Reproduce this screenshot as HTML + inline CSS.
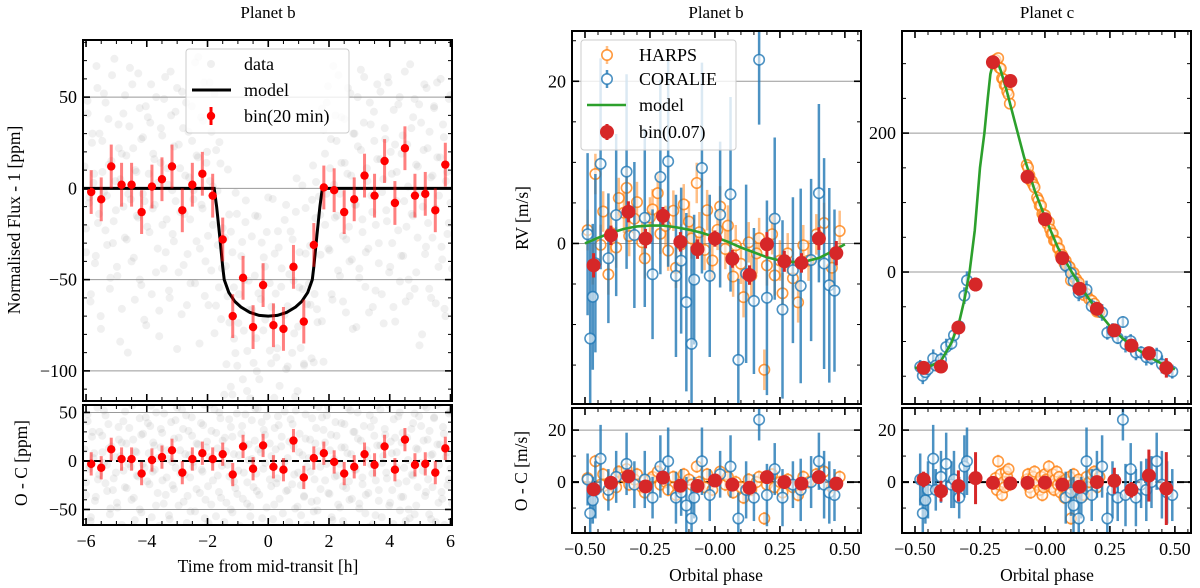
<!DOCTYPE html>
<html><head><meta charset="utf-8">
<style>
html,body{margin:0;padding:0;background:#fff;}
svg{display:block;font-family:"Liberation Serif",serif;}
</style></head>
<body>
<svg id="fig" width="1200" height="588" viewBox="0 0 1200 588" xmlns="http://www.w3.org/2000/svg">
<defs id="defs"></defs>
<text x="268" y="18" font-size="17" text-anchor="middle">Planet b</text>
<text x="716" y="18" font-size="17" text-anchor="middle">Planet b</text>
<text x="1047" y="18" font-size="17" text-anchor="middle">Planet c</text>
<text transform="translate(20,220) rotate(-90)" font-size="17.5" text-anchor="middle">Normalised Flux - 1 [ppm]</text>
<text transform="translate(27,463) rotate(-90)" font-size="17.5" text-anchor="middle">O - C [ppm]</text>
<text transform="translate(528,218) rotate(-90)" font-size="17.5" text-anchor="middle">RV [m/s]</text>
<text transform="translate(527,471) rotate(-90)" font-size="17.5" text-anchor="middle">O - C [m/s]</text>
<text x="268" y="572" font-size="17.5" text-anchor="middle">Time from mid-transit [h]</text>
<text x="716" y="581" font-size="17.5" text-anchor="middle">Orbital phase</text>
<text x="1047" y="581" font-size="17.5" text-anchor="middle">Orbital phase</text>
</svg>
<script>
// ---------- transit data ----------
const transitNoise=[12,-35,48,-8,-62,25,3,-41,67,-19,30,-77,9,52,-23,-4,38,-55,15,-30,71,-12,-48,22,5,-66,41,-27,18,-90,34,-6,57,-38,10,-15,63,-50,27,-3,-72,45,-21,8,36,-58,19,-9,50,-33,-81,14,29,-44,61,-17,2,-60,40,-25,23,-7,55,-46,11,-69,33,-14,47,-36,6,-52,26,-1,69,-29,17,-85,39,-11,58,-40,20,-64,4,31,-20,53,-57,13,-32,44,-5,-74,24,-43,66,-16,35,-53,7,-28,49,-10,-67,28,-39,16,60,-22,1,-47,42,-79,21,-13,54,-35,9,-59,32,-2,46,-70,18,-26,64,-45,12,-18,37,-83,25,-8,51,-31,3,-63,43,-24,15,-49,70,-12,28,-56,6,-37,48,-6,-71,22,-42,59,-19,34,-51,10,-29,45,-95,19,-3,56,-34,27,-61,2,40,-15,62,-48,14,-26,38,-68,8,-21,52,-39,30,-9,-76,23,-44,65,-17,36,-54,11,-33,47,-4,-65,26,-20,57,-41,16,-58,5,33,-12,61,-46,20,-30,43,-73,9,-23,50,-37,29,-7,-62,24,-50,68,-14,39,-55,13,-27,46,-2,-80,21,-36,55,-19,31,-60,7,44,-11,58,-43,17,-32,35,-66,4,-25,49,-8];
const transitNoise2=[-22,41,-5,-58,30,8,-37,55,-14,-70,26,-2,47,-31,13,-49,62,-18,4,-43,35,-84,19,-10,51,-28,-3,66,-40,22,-61,9,-16,44,-53,28,-7,-75,39,-24,57,-11,16,-46,3,-67,33,-20,49,-35,11,-56,64,-1,-29,42,-88,24,-13,53,-42,7,-64,31,-17,45,-6,-52,18,72,-33,-9,37,-59,14,-26,58,-45,1,-78,29,-15,50,-38,21,-63,10,-4,43,-50,25,-21,60,-34,6,-69,36,-12,48,-44,17,-57,2,-27,54,-31,12,-73,40,-8,27,-48,65,-19,5,-60,34,-23,46,-39,15,-54,-1,59,-30,20,-82,38,-14,52,-47,9,-25,63,-36,23,-66,3,-11,44,-52,18,-41,56,-6,-71,32,-20,47,-33,11,-58,67,-16,26,-45,-3,39,-62,14,-28,55,-40,7,-77,30,-9,50,-49,21,-24,61,-35,4,-68,35,-13,42,-56,16,-30,53,-2,-74,27,-18,58,-43,8,-65,24,-7,46,-51,19,-37,64,-21,1,-59,33,-15,49,-46,12,-86,36,-10,57,-32,22,-55,6,-27,45,-63,17,-4,60,-39,28,-70,9,-19,51,-44];
const binTimes=[-5.83,-5.5,-5.17,-4.83,-4.5,-4.17,-3.83,-3.5,-3.17,-2.83,-2.5,-2.17,-1.83,-1.5,-1.17,-0.83,-0.5,-0.17,0.17,0.5,0.83,1.17,1.5,1.83,2.17,2.5,2.83,3.17,3.5,3.83,4.17,4.5,4.83,5.17,5.5,5.83];
const binFlux=[-2,-6,12,2,2,-13,1,5,12,-12,2,8,-4,-28,-70,-49,-76,-53,-75,-77,-43,-73,-31,0.5,-1,-13,-6,7,-4,15,-8,22,-4,-3,-12,13];
const binFluxRes=[-3,-7,12,2,2,-13,1,4,11,-12,2,8,2,7,-14,15,-8,16,-6,-9,21,-17,3,8,-1,-13,-6,7,-4,15,-9,22,-4,-3,-12,13];
const binFluxErr=[12,12,12,12,12,12,12,12,12,12,12,12,12,12,12,12,12,12,12,12,12,12,12,12,12,12,12,12,12,12,12,12,12,12,12,12];
const transitModelT=[-6.2,-1.78,-1.7,-1.6,-1.5,-1.45,-1.3,-1.1,-0.9,-0.6,-0.3,0,0.3,0.6,0.9,1.1,1.3,1.45,1.5,1.6,1.7,1.78,6.2];
const transitModelF=[0,0,-10,-26,-43,-50,-57,-62,-65,-68,-69.6,-70,-69.6,-68,-65,-62,-57,-50,-43,-26,-10,0,0];
// ---------- RV data ----------
const harpsPhaseB=[-0.49,-0.47,-0.46,-0.44,-0.43,-0.41,-0.40,-0.38,-0.37,-0.35,-0.34,-0.33,-0.31,-0.30,-0.28,-0.27,-0.25,-0.24,-0.22,-0.21,-0.19,-0.18,-0.16,-0.15,-0.13,-0.12,-0.10,-0.09,-0.07,-0.06,-0.04,-0.03,-0.01,0.01,0.02,0.04,0.05,0.07,0.08,0.10,0.11,0.13,0.14,0.16,0.17,0.19,0.20,0.22,0.23,0.25,0.26,0.28,0.30,0.32,0.34,0.36,0.39,0.42,0.45,0.48];
const harpsPhaseC=[-0.19,-0.185,-0.18,-0.175,-0.17,-0.165,-0.16,-0.155,-0.15,-0.145,-0.14,-0.135,-0.07,-0.065,-0.06,-0.055,-0.05,-0.045,-0.04,-0.03,-0.025,-0.02,-0.015,-0.01,-0.005,0.0,0.005,0.01,0.015,0.02,0.025,0.03,0.035,0.04,0.045,0.05,0.055,0.06,0.065,0.07,0.075,0.08,0.085,0.09,0.095,0.10,0.105,0.11,0.115,0.12,0.125,0.13,0.14,0.15,0.16,0.17,0.18,0.19,0.20,0.21];
const harpsOC=[1.5,-3,8,-1,3,-5,0,-2,4,2,5,-1,1,3,-2,-4,1,2,4,-1,0,-3,2,-5,-2,3,1,-1,6,0,-2,3,-3,1,4,-1,2,-4,0,-2,-6,1,-3,0,2,-14,-1,3,-2,0,-4,1,-2,-5,2,0,3,4,-2,2];
const coraliePhaseB=[-0.49,-0.48,-0.47,-0.46,-0.44,-0.41,-0.38,-0.34,-0.31,-0.27,-0.24,-0.21,-0.18,-0.15,-0.13,-0.11,-0.09,-0.08,-0.05,-0.02,0.02,0.06,0.09,0.12,0.15,0.17,0.20,0.23,0.26,0.30,0.33,0.37,0.40,0.42,0.44,0.46];
const coraliePhaseC=[-0.48,-0.47,-0.46,-0.45,-0.43,-0.42,-0.40,-0.38,-0.36,-0.35,-0.33,-0.31,-0.30,0.08,0.10,0.11,0.13,0.14,0.16,0.18,0.20,0.22,0.24,0.26,0.28,0.30,0.31,0.33,0.35,0.37,0.39,0.41,0.43,0.45,0.47,0.49];
const coralieOC=[1,-12,-7,-3,9,-3,2,7,-1,1,-6,6,8,-6,-4,-9,-14,-6,8,-5,3,6,-14,-3,-6,24,-5,5,-6,-1,-3,0,8,-1,-4,-5];
const coralieErr=[10,12,9,11,13,8,10,12,9,11,8,12,13,10,9,11,12,8,13,10,9,12,10,11,9,8,12,10,11,9,12,10,11,13,12,10];
const binPhase=[-0.467,-0.4,-0.333,-0.267,-0.2,-0.133,-0.067,0,0.067,0.133,0.2,0.267,0.333,0.4,0.467];
const binRVb=[-2.7,1.0,3.9,0.6,3.4,0.2,-0.7,0.6,-1.9,-3.9,-0.1,-2.2,-2.4,0.6,-1.2];
const binRVbRes=[-2.8,-0.3,2.2,-1.7,1.7,-1.4,-1.5,0.6,-1,-2.2,1.9,0,-0.6,1.9,-0.6];
const binRVbErr=[1.5,1.2,1.3,1.2,1.1,1.2,1.2,1.0,1.1,1.2,1.5,1.3,1.2,1.4,1.5];
const binRVc=[-138,-136,-80,-18,302,275,137,76,20,-24,-53,-84,-106,-117,-138];
const binRVcRes=[1,-3.5,-1.5,1.5,-0.3,-0.5,-0.3,-0.2,-1,-1.8,0,0.5,-3,2.5,-2.5];
const binRVcErr=[3,4,6,10,1,1,1,1,1,1,2,5,3,10,14];
const modelBPhase=[-0.5,-0.45,-0.4,-0.35,-0.3,-0.25,-0.2,-0.15,-0.1,-0.05,0,0.05,0.1,0.15,0.2,0.25,0.3,0.35,0.4,0.45,0.5];
const modelBRV=[0,0.7,1.3,1.8,2.1,2.2,2.2,2.0,1.7,1.3,0.8,0.2,-0.5,-1.1,-1.7,-2.1,-2.3,-2.2,-1.8,-1.0,-0.1];
const modelCPhase=[-0.5,-0.45,-0.4,-0.36,-0.33,-0.31,-0.29,-0.27,-0.25,-0.233,-0.22,-0.21,-0.2,-0.19,-0.18,-0.17,-0.15,-0.12,-0.08,-0.04,0,0.05,0.1,0.15,0.2,0.25,0.3,0.35,0.4,0.45,0.5];
const modelCRV=[-138,-137,-128,-102,-72,-40,0,60,150,200,250,285,300,304,300,290,265,222,165,118,79,35,2,-28,-55,-78,-96,-110,-122,-132,-140];

const NS='http://www.w3.org/2000/svg';
const svg=document.getElementById('fig');
const defs=document.getElementById('defs');
function mk(tag,attrs,parent){const e=document.createElementNS(NS,tag);for(const k in attrs)e.setAttribute(k,attrs[k]);(parent||svg).appendChild(e);return e;}
function lin(d0,d1,r0,r1){return v=>r0+(v-d0)*(r1-r0)/(d1-d0);}
function interp(xs,ys,x){if(x<=xs[0])return ys[0];for(let i=1;i<xs.length;i++){if(x<=xs[i]){const t=(x-xs[i-1])/(xs[i]-xs[i-1]);return ys[i-1]+t*(ys[i]-ys[i-1]);}}return ys[ys.length-1];}
function fmt(v,d){const s=Math.abs(v).toFixed(d);return (v<0?'\u2212':'')+s;}
const TF=18;

function panel(name,x0,x1,y0,y1,xl,yl,o){
  const g=mk('g',{});
  
  
  const cp=mk('clipPath',{id:name+'-clip'},defs);
  mk('rect',{x:x0,y:y0,width:x1-x0,height:y1-y0},cp);
  const sx=lin(xl[0],xl[1],x0,x1), sy=lin(yl[0],yl[1],y1,y0);
  const plot=mk('g',{'clip-path':'url(#'+name+'-clip)'},g);
  o.grid.forEach(v=>{
    const l=mk('line',{x1:x0,x2:x1,y1:sy(v),y2:sy(v),stroke:'#999','stroke-width':1},plot);
    
    
  });
  if(o.zero){
    const z=mk('line',{x1:x0,x2:x1,y1:sy(0),y2:sy(0),stroke:'#000','stroke-width':2,'stroke-dasharray':'7,4'},plot);
    
    
  }
  return {name,g,plot,sx,sy,x0,x1,y0,y1,xl,yl,o};
}
function frame(p){
  const {g,sx,sy,x0,x1,y0,y1,xl,yl,o}=p;
  const fr=mk('g',{stroke:'#000'},g);
  
  
  const tick=(a,b,c,d,w)=>mk('line',{x1:a,y1:b,x2:c,y2:d,'stroke-width':w},fr);
  for(let v=Math.ceil(xl[0]/o.xmin-1e-9)*o.xmin;v<=xl[1]+1e-9;v+=o.xmin){
    const X=sx(v);const major=Math.abs(v/o.xmaj-Math.round(v/o.xmaj))<1e-6;const L=major?7:4;
    tick(X,y1,X,y1-L,major?1.6:1);tick(X,y0,X,y0+L,major?1.6:1);
    if(major&&o.xlabels){const t=mk('text',{x:X,y:y1+22,'font-size':TF,'text-anchor':'middle',stroke:'none',fill:'#000'},g);t.textContent=fmt(v,o.xdec);
      
      }
  }
  for(let v=Math.ceil(yl[0]/o.ymin-1e-9)*o.ymin;v<=yl[1]+1e-9;v+=o.ymin){
    const Y=sy(v);const major=Math.abs(v/o.ymaj-Math.round(v/o.ymaj))<1e-6;const L=major?7:4;
    tick(x0,Y,x0+L,Y,major?1.6:1);tick(x1,Y,x1-L,Y,major?1.6:1);
    if(major){const t=mk('text',{x:x0-6,y:Y+6,'font-size':TF,'text-anchor':'end',stroke:'none',fill:'#000'},g);t.textContent=fmt(Math.round(v),0);
      
      }
  }
  const b=mk('rect',{x:x0,y:y0,width:x1-x0,height:y1-y0,fill:'none','stroke-width':2},fr);
  
  
}
function errbar(parent,X,Y1,Y2,color,w,op){return mk('line',{x1:X,x2:X,y1:Y1,y2:Y2,stroke:color,'stroke-width':w,'stroke-opacity':op},parent);}

// ---------- panel A: transit ----------
const A=panel('transit-panel',83,452,40,401,[-6.1,6.05],[-116.5,81.3],{grid:[50,0,-50,-100],xmaj:2,xmin:0.5,ymaj:50,ymin:10,xlabels:false,xdec:0});
const AR=panel('transit-residual-panel',83,452,405,525,[-6.1,6.05],[-66,57.7],{grid:[50,-50],zero:true,xmaj:2,xmin:0.5,ymaj:50,ymin:10,xlabels:true,xdec:0});
[[transitNoise,-6.05],[transitNoise2,-6.0]].forEach(([arr,start])=>{
  arr.forEach((n,i)=>{
    const t=start+12.05*i/(arr.length-1);
    const c=mk('circle',{cx:A.sx(t),cy:A.sy(n+interp(transitModelT,transitModelF,t)),r:4,fill:'#808080','fill-opacity':0.12},A.plot);
    
    
    const c2=mk('circle',{cx:AR.sx(t),cy:AR.sy(n),r:4,fill:'#808080','fill-opacity':0.12},AR.plot);
    
    
  });
});
const tm=mk('polyline',{points:transitModelT.map((t,i)=>A.sx(t)+','+A.sy(transitModelF[i])).join(' '),fill:'none',stroke:'#000','stroke-width':3},A.plot);


binTimes.forEach((t,i)=>{
  const e=errbar(A.plot,A.sx(t),A.sy(binFlux[i]-binFluxErr[i]),A.sy(binFlux[i]+binFluxErr[i]),'#ff0000',3,0.5);
  
  
  const c=mk('circle',{cx:A.sx(t),cy:A.sy(binFlux[i]),r:4.2,fill:'#ff0000'},A.plot);
  
  
  const e2=errbar(AR.plot,AR.sx(t),AR.sy(binFluxRes[i]-binFluxErr[i]),AR.sy(binFluxRes[i]+binFluxErr[i]),'#ff0000',3,0.5);
  
  
  const c2=mk('circle',{cx:AR.sx(t),cy:AR.sy(binFluxRes[i]),r:4.2,fill:'#ff0000'},AR.plot);
  
  
});
frame(A);frame(AR);

// ---------- RV panels ----------
const PX=[-0.55,0.562];
const B=panel('rv-b-panel',572,861,31,404,PX,[-19.8,26.2],{grid:[20,0],xmaj:0.25,xmin:0.05,ymaj:20,ymin:5,xlabels:false,xdec:2});
const BR=panel('rv-b-residual-panel',572,861,408,533,PX,[-19.6,28.5],{grid:[20],zero:true,xmaj:0.25,xmin:0.05,ymaj:20,ymin:10,xlabels:true,xdec:2});
const C=panel('rv-c-panel',902,1191,31,404,PX,[-190,347],{grid:[200,0],xmaj:0.25,xmin:0.05,ymaj:200,ymin:50,xlabels:false,xdec:2});
const CR=panel('rv-c-residual-panel',902,1191,408,533,PX,[-19.6,28.5],{grid:[20],zero:true,xmaj:0.25,xmin:0.05,ymaj:20,ymin:10,xlabels:true,xdec:2});

function drawInst(P,phases,vals,errs,color,ew,eop,name){
  phases.forEach((ph,i)=>{
    const X=P.sx(ph),v=vals[i],e=errs[i];
    const b=errbar(P.plot,X,P.sy(v-e),P.sy(v+e),color,ew,eop);
    
    
  });
  phases.forEach((ph,i)=>{
    const c=mk('circle',{cx:P.sx(ph),cy:P.sy(vals[i]),r:5.2,fill:'#fff','fill-opacity':0.55,stroke:color,'stroke-width':1.6,'stroke-opacity':0.8},P.plot);
    
    
  });
}
const harpsErr=harpsOC.map(()=>2.5);
const harpsB=harpsPhaseB.map((p,i)=>interp(modelBPhase,modelBRV,p)+harpsOC[i]);
const harpsC=harpsPhaseC.map((p,i)=>interp(modelCPhase,modelCRV,p)+harpsOC[i]);
const corB=coraliePhaseB.map((p,i)=>interp(modelBPhase,modelBRV,p)+coralieOC[i]);
const corC=coraliePhaseC.map((p,i)=>interp(modelCPhase,modelCRV,p)+coralieOC[i]);
drawInst(B,harpsPhaseB,harpsB,harpsErr,'#ff7f0e',2.5,0.5,'harps');
drawInst(B,coraliePhaseB,corB,coralieErr,'#1f77b4',2.5,0.8,'coralie');
drawInst(BR,harpsPhaseB,harpsOC,harpsErr,'#ff7f0e',2.5,0.5,'harps-residual');
drawInst(BR,coraliePhaseB,coralieOC,coralieErr,'#1f77b4',2.5,0.8,'coralie-residual');
drawInst(C,harpsPhaseC,harpsC,harpsErr,'#ff7f0e',2.5,0.5,'harps');
drawInst(C,coraliePhaseC,corC,coralieErr,'#1f77b4',2.5,0.8,'coralie');
drawInst(CR,harpsPhaseC,harpsOC,harpsErr,'#ff7f0e',2.5,0.5,'harps-residual');
drawInst(CR,coraliePhaseC,coralieOC,coralieErr,'#1f77b4',2.5,0.8,'coralie-residual');

const mb=mk('polyline',{points:modelBPhase.map((p,i)=>B.sx(p)+','+B.sy(modelBRV[i])).join(' '),fill:'none',stroke:'#2ca02c','stroke-width':2.6},B.plot);


const mc=mk('polyline',{points:modelCPhase.map((p,i)=>C.sx(p)+','+C.sy(modelCRV[i])).join(' '),fill:'none',stroke:'#2ca02c','stroke-width':2.6,'stroke-linejoin':'round'},C.plot);



function drawBins(P,vals,errs,name){
  binPhase.forEach((ph,i)=>{
    const X=P.sx(ph);
    const b=errbar(P.plot,X,P.sy(vals[i]-errs[i]),P.sy(vals[i]+errs[i]),'#d62728',3,1);
    
    
    const c=mk('circle',{cx:X,cy:P.sy(vals[i]),r:7,fill:'#d62728'},P.plot);
    
    
  });
}
drawBins(B,binRVb,binRVbErr,'rv-b-bin');
drawBins(BR,binRVbRes,binRVbErr,'rv-b-residual-bin');
drawBins(C,binRVc,binRVcErr,'rv-c-bin');
drawBins(CR,binRVcRes,binRVcErr,'rv-c-residual-bin');
frame(B);frame(BR);frame(C);frame(CR);

// ---------- legends ----------
function legendText(g,x,y,s){const t=mk('text',{x:x,y:y+6,'font-size':18},g);t.textContent=s;return t;}
const LA=mk('g',{});


mk('rect',{x:186,y:49,width:163,height:84,rx:3,fill:'#fff','fill-opacity':0.8,stroke:'#ccc'},LA);
mk('circle',{cx:211,cy:64,r:4,fill:'#808080','fill-opacity':0.13},LA);
legendText(LA,244,64,'data');
mk('line',{x1:192,x2:231,y1:90,y2:90,stroke:'#000','stroke-width':3},LA);
legendText(LA,244,90,'model');
mk('line',{x1:211,x2:211,y1:107,y2:125,stroke:'#ff0000','stroke-width':3},LA);
mk('circle',{cx:211,cy:116,r:4.2,fill:'#ff0000'},LA);
legendText(LA,244,116,'bin(20 min)');

const LB=mk('g',{});


mk('rect',{x:581,y:40,width:155,height:110,rx:3,fill:'#fff','fill-opacity':0.8,stroke:'#ccc'},LB);
mk('line',{x1:607,x2:607,y1:46,y2:64,stroke:'#ff7f0e','stroke-width':2.5,'stroke-opacity':0.5},LB);
mk('circle',{cx:607,cy:55,r:5.2,fill:'#fff',stroke:'#ff7f0e','stroke-width':1.6,'stroke-opacity':0.8},LB);
legendText(LB,639,55,'HARPS');
mk('line',{x1:607,x2:607,y1:70,y2:88,stroke:'#1f77b4','stroke-width':2.5,'stroke-opacity':0.8},LB);
mk('circle',{cx:607,cy:79,r:5.2,fill:'#fff',stroke:'#1f77b4','stroke-width':1.6,'stroke-opacity':0.8},LB);
legendText(LB,639,79,'CORALIE');
mk('line',{x1:587,x2:626,y1:105,y2:105,stroke:'#2ca02c','stroke-width':2.6},LB);
legendText(LB,639,105,'model');
mk('line',{x1:607,x2:607,y1:124,y2:140,stroke:'#d62728','stroke-width':3},LB);
mk('circle',{cx:607,cy:132,r:7,fill:'#d62728'},LB);
legendText(LB,639,132,'bin(0.07)');
</script>
</body></html>
